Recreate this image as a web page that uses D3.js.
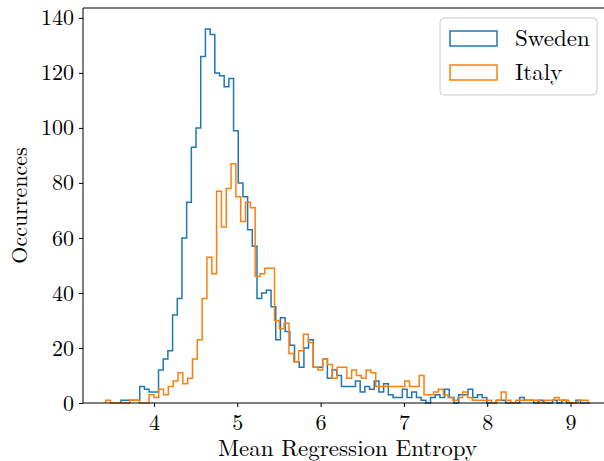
<!DOCTYPE html>
<html>
<head>
<meta charset="utf-8">
<script src="https://cdn.jsdelivr.net/npm/d3@7"></script>
<style>
  body { margin: 0; background: #fff; }
  svg text { font-family: "Latin Modern Roman", "Liberation Serif", serif; fill: #000; }
</style>
</head>
<body>
<div id="chart"></div>
<script>
// histogram counts (100 bins each)
const seriesNames = ["Sweden", "Italy"];
const swedenStart = 3.604;
const swedenBinWidth = 0.0563;
const swedenCounts = [
  1, 1, 1, 1, 6, 5, 4, 4, 12, 16, 19,
  32, 38, 60, 73, 93, 100, 126, 136,
  134, 120, 119, 115, 118, 99,
  80, 75, 63, 57,
  38, 40, 41, 35, 23, 31, 26, 21, 15, 13,
  20, 23, 13, 13, 16, 9, 12, 10, 6, 6, 6, 8,
  4, 6, 5, 8, 4, 7, 3, 2, 2, 5, 2, 4,
  2, 1, 0, 2, 3, 2, 5, 2, 0, 3, 3, 5, 2, 3,
  2, 0, 0, 1, 1, 0, 0, 0, 2, 1, 1, 0, 1, 0, 0, 1, 0, 1, 0, 0, 1, 0, 0
];
const italyStart = 3.42;
const italyBinWidth = 0.0579;
const italyCounts = [
  1, 0, 0, 0, 0, 1, 1, 0, 0,
  3, 2, 5, 3, 6, 8, 11, 7, 9, 16, 23,
  38, 53, 47, 77, 64, 78, 87, 75, 66, 73, 71,
  46, 47, 49, 49, 30, 27, 29, 18, 15, 19,
  25, 22, 13, 12, 16, 14, 9, 13, 13, 9,
  12, 10, 9, 12, 11, 6, 6, 6, 6, 6, 6,
  8, 6, 6, 10, 3, 3, 4, 5,
  3, 2, 1, 2, 4, 2, 1, 1, 1, 1, 0, 1, 4, 1, 0, 1, 1, 1, 1, 1, 0, 1, 1, 2, 1, 1, 0, 0, 1, 1
];
const xTicks = [4, 5, 6, 7, 8, 9];
const yTicks = [0, 20, 40, 60, 80, 100, 120, 140];
const colors = ["#1f77b4", "#ff7f0e"];

const width = 604, height = 461;
const plotLeft = 83, plotRight = 612, plotTop = 8, plotBottom = 403;

const svg = d3.select("#chart")
  .append("svg")
  .attr("width", width)
  .attr("height", height);

const xScale = d3.scaleLinear().domain([3.148, 9.498]).range([plotLeft, plotRight]);
const yScale = d3.scaleLinear().domain([0, 143.6]).range([plotBottom, plotTop]);

// turn counts into a step outline like matplotlib's histtype="step"
function stepPoints(start, w, counts) {
  const pts = [[start, 0]];
  counts.forEach((c, i) => {
    pts.push([start + i * w, c]);
    pts.push([start + (i + 1) * w, c]);
  });
  pts.push([start + counts.length * w, 0]);
  return pts;
}

const line = d3.line()
  .x((d) => xScale(d[0]))
  .y((d) => yScale(d[1]));

const series = [
  stepPoints(swedenStart, swedenBinWidth, swedenCounts),
  stepPoints(italyStart, italyBinWidth, italyCounts)
];

svg.append("g")
  .selectAll("path")
  .data(series)
  .enter()
  .append("path")
  .attr("d", (d) => line(d))
  .attr("fill", "none")
  .attr("stroke", (d, i) => colors[i])
  .attr("stroke-width", 1.5)
  .attr("stroke-linejoin", "miter");

// axes
const xAxis = svg.append("g")
  .attr("transform", `translate(0,${plotBottom})`)
  .call(d3.axisBottom(xScale).tickValues(xTicks).tickFormat(d3.format("d"))
    .tickSize(4).tickSizeOuter(0).tickPadding(5));
const yAxis = svg.append("g")
  .attr("transform", `translate(${plotLeft},0)`)
  .call(d3.axisLeft(yScale).tickValues(yTicks).tickSize(4).tickSizeOuter(0).tickPadding(5));

[xAxis, yAxis].forEach((ax) => {
  ax.select(".domain").remove();
  ax.selectAll("line").attr("stroke", "#000").attr("stroke-width", 1);
  ax.selectAll("text").style("font-size", "22px").attr("fill", "#000");
});
xAxis.selectAll("text").attr("dy", "0.8em");

// spines
svg.append("line").attr("x1", plotLeft).attr("x2", plotLeft).attr("y1", plotTop).attr("y2", plotBottom)
  .attr("stroke", "#000").attr("stroke-width", 1);
svg.append("line").attr("x1", plotLeft).attr("x2", plotRight).attr("y1", plotBottom).attr("y2", plotBottom)
  .attr("stroke", "#000").attr("stroke-width", 1);
svg.append("line").attr("x1", plotLeft).attr("x2", plotRight).attr("y1", plotTop).attr("y2", plotTop)
  .attr("stroke", "#000").attr("stroke-width", 1);

// labels
svg.append("text")
  .attr("x", (plotLeft + plotRight) / 2)
  .attr("y", 456)
  .attr("text-anchor", "middle")
  .style("font-size", "23px")
  .text("Mean Regression Entropy");
svg.append("text")
  .attr("transform", `translate(27,${(plotTop + plotBottom) / 2}) rotate(-90)`)
  .attr("text-anchor", "middle")
  .style("font-size", "22px")
  .text("Occurrences");

// legend
const legend = svg.append("g").attr("transform", "translate(440,18)");
legend.append("rect")
  .attr("width", 157).attr("height", 77).attr("rx", 4)
  .attr("fill", "#fff").attr("fill-opacity", 0.8)
  .attr("stroke", "#ccc").attr("stroke-width", 1);
seriesNames.forEach((name, i) => {
  const g = legend.append("g").attr("transform", `translate(0,${13 + i * 34})`);
  g.append("rect")
    .attr("x", 10).attr("y", 0).attr("width", 47).attr("height", 15)
    .attr("fill", "none").attr("stroke", colors[i]).attr("stroke-width", 1.5);
  g.append("text")
    .attr("x", 75).attr("y", 15)
    .style("font-size", "23px")
    .text(name);
});
</script>
</body>
</html>
